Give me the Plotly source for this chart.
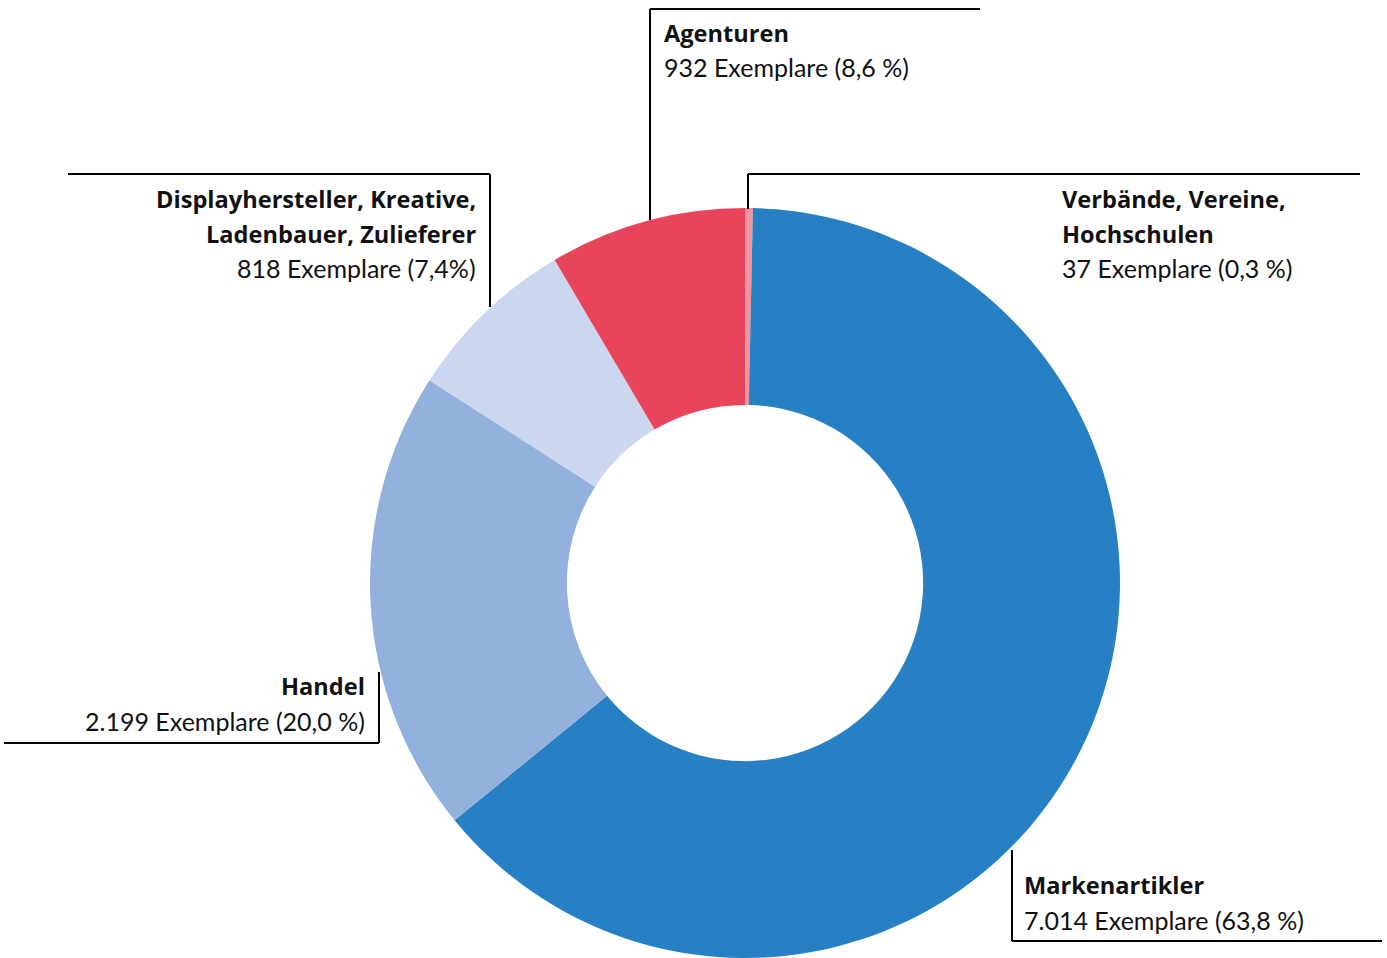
import plotly.graph_objects as go

W, H = 1387, 958

labels = ["Verbände, Vereine, Hochschulen", "Markenartikler", "Handel",
          "Displayhersteller, Kreative, Ladenbauer, Zulieferer", "Agenturen"]
values = [37, 7014, 2199, 818, 932]
colors = ["#F0959C", "#2780C4", "#92B1DC", "#CBD7EE", "#E8445B"]

label_titles = [["Verbände, Vereine,", "Hochschulen"], ["Markenartikler"], ["Handel"],
                ["Displayhersteller, Kreative,", "Ladenbauer, Zulieferer"], ["Agenturen"]]
label_counts = ["37 Exemplare (0,3 %)", "7.014 Exemplare (63,8 %)", "2.199 Exemplare (20,0 %)",
                "818 Exemplare (7,4%)", "932 Exemplare (8,6 %)"]

def px(x):
    return x / W

def py(y):
    return 1 - y / H

# pie geometry in pixels
R = 375
CX = 745

fig = go.Figure(go.Pie(
    labels=labels, values=values, sort=False, direction="clockwise", rotation=0,
    hole=0.475, textinfo="none", hoverinfo="label+value+percent",
    marker=dict(colors=colors, line=dict(width=0)),
    domain=dict(x=[px(CX - R), px(CX + R)], y=[0, 2 * R / H]),
    showlegend=False,
))

black = "#111111"
REG = dict(family="Lato", size=25, color=black)
BOLD = dict(family="Open Sans", size=23.6, color=black)

# (anchor x, align, first line center y)
positions = [(1060, "left", 199), (1022, "left", 885), (367, "right", 686),
             (478, "right", 199), (662, "left", 33)]
LS = 34.5
annotations = []
for titles, count, (x, align, y0) in zip(label_titles, label_counts, positions):
    lines = [(t, True) for t in titles] + [(count, False)]
    for i, (t, bold) in enumerate(lines):
        annotations.append(dict(
            x=px(x), y=py(y0 + i * LS), xref="paper", yref="paper",
            text=f"<b>{t}</b>" if bold else t, showarrow=False,
            xanchor=align, yanchor="middle",
            font=BOLD if bold else REG,
        ))

def seg(x0, y0, x1, y1):
    return dict(type="line", xref="paper", yref="paper",
                x0=px(x0), y0=py(y0), x1=px(x1), y1=py(y1),
                line=dict(color="black", width=2))

shapes = [
    seg(650, 9, 980, 9), seg(650, 9, 650, 220),
    seg(748, 174, 1360, 174), seg(748, 174, 748, 209),
    seg(68, 174, 490, 174), seg(490, 174, 490, 307),
    seg(4, 743, 379, 743), seg(379, 743, 379, 672),
    seg(1012, 941, 1382, 941), seg(1012, 941, 1012, 850),
]

fig.update_layout(
    width=W, height=H, margin=dict(l=0, r=0, t=0, b=0),
    paper_bgcolor="white", plot_bgcolor="white",
    annotations=annotations, shapes=shapes,
)

fig.write_html("out.html")
